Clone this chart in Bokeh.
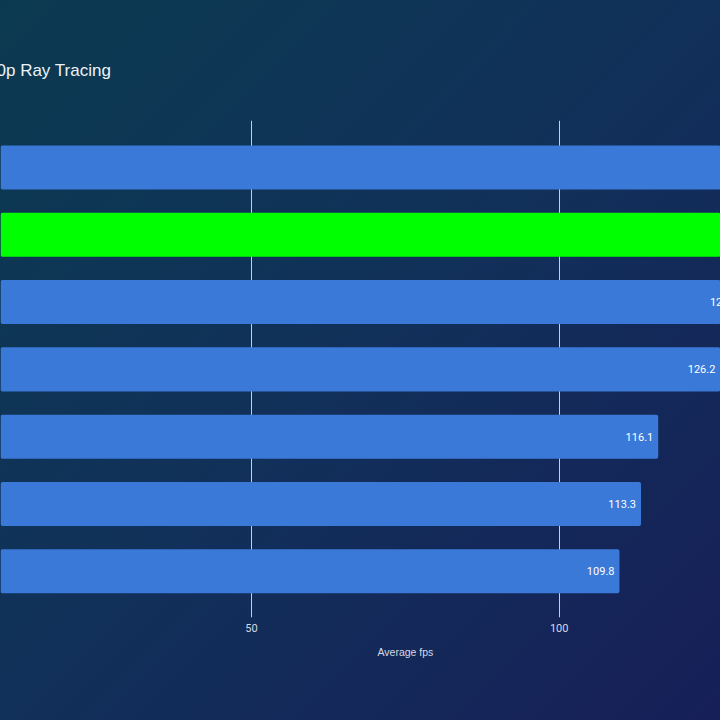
from bokeh.plotting import figure
from bokeh.models import Range1d, FixedTicker, Title
from bokeh.core.properties import value
from bokeh.embed import file_html
from bokeh.resources import INLINE

# ---- data ----
fps = [150.0, 141.0, 129.8, 126.2, 116.1, 113.3, 109.8]
fps_labels = ["150.0", "141.0", "129.8", "126.2", "116.1", "113.3", "109.8"]
highlight = [False, True, False, False, False, False, False]
x_ticks = [0, 50, 100, 150]
title_text = "0p Ray Tracing"
x_axis_title = "Average fps"

# ---- layout ----
W = H = 720
FRAME_TOP, FRAME_BOTTOM = 120, 617
X0, X1 = 9.21, 126.22
Y0, Y1 = 0.313, 7.698

n = len(fps)
ypos = [n - i for i in range(n)]
colors = ["#00ff00" if h else "#3a79d8" for h in highlight]

p = figure(width=W, height=H, x_range=Range1d(X0, X1), y_range=Range1d(Y0, Y1),
           output_backend="svg", toolbar_location=None, y_axis_location=None,
           min_border_left=0, min_border_right=0,
           min_border_top=FRAME_TOP, min_border_bottom=H - FRAME_BOTTOM)
p.outline_line_color = None
p.border_fill_color = None
p.background_fill_color = None
p.styles = {"background": "linear-gradient(to bottom right, #0b3a50 0%, #11305a 50%, #171f58 100%)"}

# ---- grid & axis ----
p.xgrid.ticker = FixedTicker(ticks=x_ticks)
p.xgrid.grid_line_color = "#c9cdd5"
p.xgrid.grid_line_width = 1
p.ygrid.visible = False

p.xaxis.ticker = FixedTicker(ticks=x_ticks)
p.xaxis.axis_line_color = None
p.xaxis.major_tick_line_color = None
p.xaxis.minor_tick_line_color = None
p.xaxis.major_label_standoff = 0
p.xaxis.major_label_text_color = "#d5dae3"
p.xaxis.major_label_text_font = "Roboto"
p.xaxis.major_label_text_font_size = "11px"

# ---- bars ----
p.hbar(y=ypos, left=0, right=fps, height=0.654, fill_color=colors, line_color=None,
       border_radius=2)
p.text(x=fps, y=ypos, text=fps_labels, x_offset=-5, text_align="right",
       text_baseline="middle", text_color="#ffffff", text_font_size="11px",
       text_font=value("Roboto"))

# ---- titles ----
p.add_layout(Title(text=title_text, align="left", offset=-4, standoff=82,
                   text_font="Liberation Sans", text_font_size="17px",
                   text_font_style="normal", text_color="#eef2f7"), "above")
p.add_layout(Title(text=x_axis_title, align="left", offset=377, standoff=19,
                   text_font="Liberation Sans", text_font_size="10.5px",
                   text_font_style="normal", text_color="#d5dae3"), "below")

open("out.html", "w").write(file_html(p, INLINE))
